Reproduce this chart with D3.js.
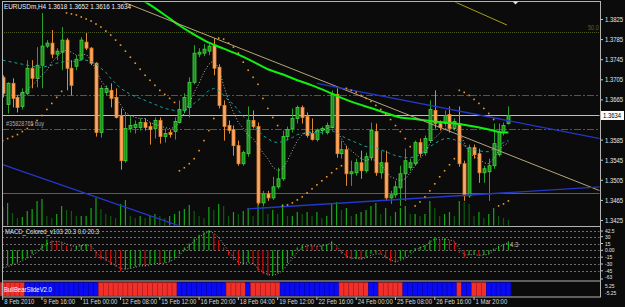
<!DOCTYPE html>
<html>
<head>
<meta charset="utf-8">
<script src="https://cdn.jsdelivr.net/npm/d3@7"></script>
<style>
  body { margin: 0; background: #0b0b0b; }
  svg { display: block; }
</style>
</head>
<body>
<div id="chart"></div>
<script>
// EURUSDm H4 bars, 8 Feb - 2 Mar 2010 (one entry per bar)
const open = [1.3710,1.3656,1.3698,1.3670,1.3652,1.3678,1.3728,1.3708,1.3734,1.3772,
  1.3778,1.3756,1.3760,1.3784,1.3728,1.3732,1.3746,1.3780,1.3768,1.3738,
  1.3600,1.3680,1.3684,1.3670,1.3634,1.3544,1.3608,1.3610,1.3610,1.3620,
  1.3612,1.3608,1.3624,1.3592,1.3600,1.3602,1.3620,1.3644,1.3650,1.3700,
  1.3756,1.3758,1.3762,1.3774,1.3730,1.3654,1.3614,1.3606,1.3574,1.3538,
  1.3558,1.3624,1.3612,1.3460,1.3478,1.3470,1.3492,1.3508,1.3592,1.3608,
  1.3628,1.3650,1.3632,1.3598,1.3586,1.3604,1.3600,1.3610,1.3676,1.3558,
  1.3566,1.3518,1.3520,1.3540,1.3524,1.3550,1.3602,1.3520,1.3540,1.3470,
  1.3476,1.3490,1.3518,1.3530,1.3538,1.3580,1.3560,1.3584,1.3644,1.3618,
  1.3618,1.3636,1.3608,1.3618,1.3538,1.3474,1.3570,1.3558,1.3520,1.3522,
  1.3534,1.3556,1.3600,1.3618];
const high = [1.3714,1.3700,1.3708,1.3674,1.3688,1.3744,1.3744,1.3770,1.3838,1.3784,
  1.3804,1.3768,1.3810,1.3788,1.3744,1.3754,1.3790,1.3798,1.3770,1.3740,
  1.3694,1.3694,1.3698,1.3688,1.3648,1.3640,1.3634,1.3624,1.3628,1.3628,
  1.3620,1.3630,1.3630,1.3608,1.3606,1.3630,1.3664,1.3678,1.3710,1.3774,
  1.3768,1.3776,1.3778,1.3788,1.3736,1.3664,1.3624,1.3614,1.3584,1.3564,
  1.3652,1.3644,1.3620,1.3484,1.3484,1.3512,1.3530,1.3604,1.3612,1.3648,
  1.3654,1.3654,1.3640,1.3628,1.3608,1.3612,1.3620,1.3684,1.3688,1.3584,
  1.3574,1.3544,1.3548,1.3564,1.3560,1.3620,1.3618,1.3564,1.3564,1.3484,
  1.3504,1.3534,1.3568,1.3548,1.3584,1.3588,1.3594,1.3664,1.3684,1.3624,
  1.3644,1.3652,1.3628,1.3652,1.3544,1.3576,1.3576,1.3568,1.3534,1.3548,
  1.3618,1.3618,1.3620,1.3652];
const low = [1.3670,1.3638,1.3650,1.3640,1.3646,1.3674,1.3688,1.3690,1.3688,1.3768,
  1.3748,1.3744,1.3724,1.3684,1.3674,1.3724,1.3744,1.3764,1.3734,1.3592,
  1.3590,1.3674,1.3650,1.3628,1.3526,1.3540,1.3600,1.3598,1.3604,1.3604,
  1.3576,1.3588,1.3578,1.3580,1.3590,1.3586,1.3618,1.3638,1.3630,1.3696,
  1.3750,1.3752,1.3754,1.3714,1.3648,1.3584,1.3598,1.3554,1.3534,1.3534,
  1.3552,1.3608,1.3456,1.3454,1.3464,1.3466,1.3488,1.3504,1.3584,1.3600,
  1.3618,1.3618,1.3590,1.3584,1.3582,1.3596,1.3596,1.3608,1.3550,1.3548,
  1.3494,1.3494,1.3514,1.3508,1.3520,1.3544,1.3514,1.3508,1.3464,1.3458,
  1.3470,1.3454,1.3464,1.3524,1.3534,1.3552,1.3554,1.3580,1.3608,1.3604,
  1.3612,1.3600,1.3604,1.3532,1.3464,1.3470,1.3548,1.3500,1.3500,1.3464,
  1.3528,1.3552,1.3594,1.3616];
const close = [1.3678,1.3698,1.3668,1.3650,1.3680,1.3728,1.3708,1.3734,1.3772,1.3778,
  1.3756,1.3762,1.3784,1.3728,1.3694,1.3746,1.3784,1.3768,1.3738,1.3600,
  1.3688,1.3688,1.3668,1.3630,1.3544,1.3608,1.3614,1.3616,1.3620,1.3610,
  1.3606,1.3624,1.3592,1.3598,1.3596,1.3622,1.3646,1.3670,1.3700,1.3758,
  1.3760,1.3766,1.3772,1.3728,1.3654,1.3612,1.3604,1.3574,1.3538,1.3560,
  1.3624,1.3612,1.3460,1.3478,1.3470,1.3492,1.3508,1.3592,1.3606,1.3628,
  1.3650,1.3630,1.3594,1.3586,1.3604,1.3608,1.3614,1.3676,1.3558,1.3566,
  1.3518,1.3522,1.3540,1.3524,1.3552,1.3604,1.3520,1.3540,1.3470,1.3476,
  1.3492,1.3518,1.3544,1.3540,1.3580,1.3558,1.3588,1.3646,1.3618,1.3610,
  1.3634,1.3608,1.3622,1.3538,1.3474,1.3570,1.3556,1.3520,1.3528,1.3534,
  1.3578,1.3600,1.3614,1.3634];
const volume = [1900,2300,1300,800,900,1500,1700,2500,2700,1000,
  800,1200,2000,1600,1500,1000,1000,1000,1800,2800,
  1700,1200,1000,800,2200,2600,1000,800,1000,800,
  1000,1200,1000,800,1000,1200,1500,1700,2100,1500,
  1000,800,1900,1600,2200,2000,1000,1400,1200,1500,
  1800,1000,2400,2000,1200,1600,1200,2200,1000,1000,
  1400,1200,1400,1000,1400,800,1000,2200,2400,1600,
  1800,1000,1200,1400,1600,2000,2300,1200,1800,1000,
  1400,1800,2000,1200,1200,1000,1200,2500,1800,1000,
  1200,1400,1000,2500,2400,2200,1000,1400,800,1200,
  1800,1000,800,600];

// parabolic SAR dots
const sar = [1.3584,1.3588,1.3592,1.3596,1.3602,1.3608,1.3616,1.3624,1.3634,1.3646,
  1.3658,1.3670,1.3682,1.3838,1.3836,1.3834,1.3830,1.3826,1.3822,1.3816,
  1.3810,1.3802,1.3794,1.3784,1.3774,1.3762,1.3750,1.3738,1.3726,1.3714,
  1.3704,1.3694,1.3684,1.3676,1.3668,1.3660,1.3524,1.3530,1.3538,1.3548,
  1.3564,1.3584,1.3604,1.3628,1.3788,1.3786,1.3778,1.3770,1.3758,1.3740,
  1.3724,1.3710,1.3696,1.3668,1.3648,1.3630,1.3614,1.3454,1.3456,1.3460,
  1.3466,1.3472,1.3480,1.3488,1.3496,1.3504,1.3512,1.3520,1.3528,1.3534,
  1.3688,1.3684,1.3680,1.3674,1.3668,1.3662,1.3654,1.3646,1.3636,1.3626,
  1.3614,1.3602,1.3588,1.3572,1.3454,1.3462,1.3472,1.3484,1.3498,1.3512,
  1.3524,1.3536,1.3548,1.3684,1.3680,1.3674,1.3666,1.3658,1.3648,1.3638,
  1.3626,1.3454,1.3458,1.3464];

// slow moving average (thick green), sampled bars
const slowMaBars = [27,30,33,36,39,42,45,48,51,54,57,60,63,66,69,72,75,78,81,84,87,90,93,96,99,102,103];
const slowMaVals = [1.3872,1.3854,1.3834,1.3813,1.3795,1.3779,1.3767,1.3755,1.3741,1.3726,1.3716,1.3704,1.3694,
  1.3682,1.3669,1.3658,1.3649,1.3639,1.3630,1.3627,1.3623,1.3620,1.3617,1.3612,1.3606,1.3600,1.3600];

// fast moving average (grey dotted)
const fastMa = [null,null,null,1.3674,1.3678,1.3684,1.3694,1.3704,1.3714,1.3724,
  1.3740,1.3750,1.3760,1.3764,1.3760,1.3754,1.3754,1.3756,1.3744,1.3724,
  1.3704,1.3690,1.3678,1.3668,1.3656,1.3640,1.3634,1.3630,1.3628,1.3628,
  1.3620,1.3616,1.3614,1.3610,1.3608,1.3610,1.3620,1.3640,1.3658,1.3680,
  1.3698,1.3720,1.3736,1.3744,1.3728,1.3694,1.3664,1.3640,1.3620,1.3608,
  1.3594,1.3588,1.3574,1.3560,1.3548,1.3532,1.3524,1.3528,1.3544,1.3564,
  1.3584,1.3596,1.3600,1.3602,1.3602,1.3604,1.3608,1.3612,1.3604,1.3588,
  1.3572,1.3564,1.3556,1.3548,1.3544,1.3548,1.3544,1.3536,1.3524,1.3512,
  1.3508,1.3504,1.3508,1.3520,1.3534,1.3548,1.3560,1.3578,1.3590,1.3598,
  1.3608,1.3610,1.3608,1.3600,1.3580,1.3560,1.3552,1.3548,1.3540,1.3538,
  1.3548,1.3564,1.3574,1.3580];

// medium moving average (teal dashed)
const midMa = [1.3744,1.3742,1.3740,1.3738,1.3736,1.3734,1.3732,1.3730,1.3730,1.3732,
  1.3734,1.3738,1.3740,1.3742,1.3742,1.3742,1.3744,1.3744,1.3742,1.3736,
  1.3728,1.3720,1.3708,1.3698,1.3688,1.3682,1.3676,1.3672,1.3668,1.3664,
  1.3660,1.3656,1.3652,1.3648,1.3646,1.3644,1.3642,1.3644,1.3650,1.3658,
  1.3666,1.3674,1.3684,1.3688,1.3684,1.3674,1.3664,1.3656,1.3644,1.3632,
  1.3624,1.3616,1.3604,1.3594,1.3588,1.3582,1.3580,1.3582,1.3586,1.3590,
  1.3596,1.3598,1.3600,1.3600,1.3600,1.3600,1.3602,1.3604,1.3600,1.3594,
  1.3588,1.3584,1.3580,1.3576,1.3572,1.3572,1.3570,1.3566,1.3562,1.3558,
  1.3554,1.3552,1.3550,1.3550,1.3552,1.3556,1.3564,1.3572,1.3578,1.3584,
  1.3588,1.3588,1.3586,1.3582,1.3574,1.3568,1.3566,1.3564,1.3562,1.3562,
  1.3568,1.3574,1.3580,1.3584];

const macdHist = [-40,-34,-30,-26,-20,-14,-8,2,14,24,
  22,20,17,10,6,9,12,14,10,-16,
  -20,-24,-30,-36,-46,-42,-39,-36,-33,-35,
  -31,-28,-30,-27,-24,-16,-8,6,15,26,
  34,40,44,36,22,6,-10,-22,-32,-30,
  -26,-30,-46,-52,-56,-55,-50,-42,-28,-12,
  6,12,11,10,9,10,13,20,6,-8,
  -16,-20,-18,-20,-14,-8,-6,-8,-18,-25,
  -27,-20,-14,-6,5,8,12,22,28,24,
  26,22,18,-6,-16,-10,-8,-12,-10,-8,
  4,10,14,20];
const macdSignal = [-38,-36,-32,-28,-23,-17,-11,-4,6,14,
  19,20,18,14,10,9,10,12,10,-4,
  -14,-20,-27,-33,-40,-41,-40,-37,-34,-34,
  -32,-29,-29,-28,-25,-19,-11,0,10,20,
  29,36,41,38,28,14,-2,-15,-26,-29,
  -27,-29,-40,-48,-53,-55,-52,-44,-32,-18,
  -4,6,10,10,9,10,12,17,10,-3,
  -12,-17,-18,-19,-16,-11,-8,-8,-14,-21,
  -25,-22,-17,-10,0,6,10,18,25,24,
  25,23,20,4,-10,-10,-9,-11,-10,-9,
  0,7,12,17];

// BullBearSlide: 1 = bull (blue), -1 = bear (red)
const bullBear = [-1,-1,-1,-1,-1,1,1,1,1,1,
  1,1,1,1,1,1,1,1,1,1,
  -1,-1,-1,-1,-1,-1,-1,-1,-1,-1,
  -1,-1,-1,-1,-1,-1,1,1,1,1,
  1,1,1,1,1,1,-1,-1,-1,-1,
  1,-1,-1,-1,-1,-1,-1,1,1,1,
  1,1,1,1,1,1,1,1,1,-1,
  -1,-1,-1,-1,-1,1,1,-1,-1,-1,
  -1,-1,1,1,1,1,1,1,1,1,
  1,1,1,-1,1,1,-1,-1,-1,1,
  1,1,1,1];

const timeTickBars = [0,8,16,24,32,40,48,56,64,72,80,88,96];
const timeTickLabels = ["8 Feb 2010","9 Feb 16:00","11 Feb 00:00","12 Feb 08:00","15 Feb 12:00","16 Feb 20:00",
  "18 Feb 04:00","19 Feb 12:00","22 Feb 16:00","24 Feb 00:00","25 Feb 08:00","26 Feb 16:00","1 Mar 20:00"];
const priceTicks = [1.3825,1.3785,1.3745,1.3705,1.3665,1.3585,1.3545,1.3505,1.3465,1.3425];
const macdTicks = [42.5,30,15,0,-15,-30,-45,-63];
const macdTickLabels = ["42.5","30","15","0.00","-15","-30","-45","-63"];
const macdLevels = [42.5,30,15,0,-15,-30,-45];
const bbTickLabels = ["5.25","-5.25"];

// trend lines: [bar, price] -> [bar, price]
const trendLines = [
  { a: [24.5, 1.3860], b: [121.7, 1.3484], color: "#b7a57c", width: 1 },
  { a: [92.1, 1.3860], b: [102.7, 1.3814], color: "#a8a012", width: 1 },
  { a: [0, 1.3536], b: [40.2, 1.3400], color: "#2438c8", width: 1.3 },
  { a: [49.8, 1.3448], b: [121.7, 1.3492], color: "#2438c8", width: 1.3 },
  { a: [64, 1.3698], b: [121.7, 1.3588], color: "#2438c8", width: 1.3 }
];
const levelPrices = [1.3800, 1.3675, 1.3607, 1.3634, 1.3480];
const levelColors = ["#4a5a1e", "#e01818", "#e01818", "#bdbdbd", "#5c6432"];
const levelDashes = ["1,1", "7,2,2,2", "7,2,2,2", null, null];

const lastPrice = 1.3634;

function renderChart(containerId) {
  const W = 625, H = 307;
  const left = 2, right = 600;
  const mainTop = 2, mainBottom = 226;
  const macdBottom = 280.5, bbTop = 281, bbBottom = 297;

  const container = d3.select(containerId);
  container.selectAll("*").remove();

  const svg = container.append("svg")
    .attr("width", W)
    .attr("height", H)
    .style("background", "#0b0b0b");

  const x = d3.scaleLinear().domain([0, 103]).range([2.7, 508.4]);
  const y = d3.scaleLinear().domain([1.3425, 1.3825]).range([220.5, 19.5]);
  const yVol = d3.scaleLinear().domain([0, 3000]).range([mainBottom, mainBottom - 30]);
  const yMacd = d3.scaleLinear().domain([-63, 42.5]).range([279, 231]);

  const defs = svg.append("defs");
  defs.append("clipPath").attr("id", "clipMain").append("rect")
    .attr("x", left + 0.5).attr("y", mainTop + 0.5).attr("width", right - left - 1).attr("height", mainBottom - mainTop - 1);
  defs.append("clipPath").attr("id", "clipMacd").append("rect")
    .attr("x", left + 0.5).attr("y", mainBottom + 0.5).attr("width", right - left - 1).attr("height", macdBottom - mainBottom - 1);

  const font = "'Liberation Sans', Arial, sans-serif";
  function label(g, tx, ty, text, color, size, anchor) {
    return g.append("text")
      .attr("transform", `translate(${tx},${ty}) scale(0.85,1)`)
      .attr("fill", color)
      .attr("text-anchor", anchor || "start")
      .style("font", `${size}px ${font}`)
      .text(text);
  }

  const main = svg.append("g").attr("clip-path", "url(#clipMain)");

  // volumes
  main.selectAll(".vol")
    .data(volume)
    .enter().append("line")
    .attr("x1", (d, i) => x(i)).attr("x2", (d, i) => x(i))
    .attr("y1", yVol(0)).attr("y2", d => yVol(d))
    .attr("stroke", (d, i) => (i === 0 || d >= volume[i - 1]) ? "#15a815" : "#0d5c0d")
    .attr("stroke-width", 1.2);

  // horizontal levels
  levelPrices.forEach((p, k) => {
    main.append("line")
      .attr("x1", left).attr("x2", right)
      .attr("y1", Math.round(y(p)) + 0.5).attr("y2", Math.round(y(p)) + 0.5)
      .attr("stroke", levelColors[k])
      .attr("stroke-dasharray", levelDashes[k])
      .attr("stroke-width", 1);
  });

  // candles
  const idx = d3.range(open.length);
  main.selectAll(".wick")
    .data(idx)
    .enter().append("line")
    .attr("x1", i => Math.round(x(i)) + 0.5).attr("x2", i => Math.round(x(i)) + 0.5)
    .attr("y1", i => y(high[i])).attr("y2", i => y(low[i]))
    .attr("stroke", i => close[i] >= open[i] ? "#2aa02a" : "#e08a30")
    .attr("stroke-width", 1);

  main.selectAll(".body")
    .data(idx)
    .enter().append("rect")
    .attr("x", i => Math.round(x(i)) - 1)
    .attr("y", i => y(Math.max(open[i], close[i])))
    .attr("width", 3)
    .attr("height", i => Math.max(1, Math.abs(y(open[i]) - y(close[i]))))
    .attr("fill", i => close[i] >= open[i] ? "#248c24" : "#f5a870")
    .attr("stroke", i => close[i] >= open[i] ? "#3ad83a" : "#f08018")
    .attr("stroke-width", 0.8);

  // moving averages
  main.append("path")
    .datum(midMa)
    .attr("fill", "none")
    .attr("stroke", "#1c9c9c")
    .attr("stroke-width", 1)
    .attr("stroke-dasharray", "3,3")
    .attr("d", d3.line().defined(d => d != null).x((d, i) => x(i)).y(d => y(d)));

  main.append("path")
    .datum(fastMa)
    .attr("fill", "none")
    .attr("stroke", "#b4b4b4")
    .attr("stroke-width", 1)
    .attr("stroke-dasharray", "1,2")
    .attr("d", d3.line().defined(d => d != null).x((d, i) => x(i)).y(d => y(d)));

  main.append("path")
    .datum(slowMaBars.map((b, k) => [b, slowMaVals[k]]))
    .attr("fill", "none")
    .attr("stroke", "#10f010")
    .attr("stroke-width", 2)
    .attr("d", d3.line().curve(d3.curveMonotoneX).x(d => x(d[0])).y(d => y(d[1])));

  // trend lines
  trendLines.forEach(t => {
    main.append("line")
      .attr("x1", x(t.a[0])).attr("y1", y(t.a[1]))
      .attr("x2", x(t.b[0])).attr("y2", y(t.b[1]))
      .attr("stroke", t.color)
      .attr("stroke-width", t.width);
  });

  // parabolic SAR
  main.selectAll(".sar")
    .data(sar)
    .enter().append("rect")
    .attr("x", (d, i) => x(i) - 0.8)
    .attr("y", d => y(d) - 0.8)
    .attr("width", 1.6).attr("height", 1.6)
    .attr("fill", "#f09a2a");

  // texts inside main panel
  label(svg, 4, 9, "EURUSDm,H4  1.3618  1.3652  1.3616  1.3634", "#f0f0f0", 7.5);
  label(svg, 6, 126, "#35828765 buy", "#a8a8a8", 6.5);
  label(svg, 588, y(1.3800) - 2, "50.0", "#56652a", 6.5);

  // price axis
  const axisG = svg.append("g");
  priceTicks.forEach(p => {
    axisG.append("line")
      .attr("x1", right).attr("x2", right + 3)
      .attr("y1", y(p)).attr("y2", y(p))
      .attr("stroke", "#c8c8c8");
    label(axisG, 605, y(p) + 2.5, d3.format(".4f")(p), "#e6e6e6", 7);
  });
  axisG.append("rect")
    .attr("x", 601).attr("y", y(lastPrice) - 4.5)
    .attr("width", 23).attr("height", 9)
    .attr("fill", "#ffffff");
  label(axisG, 603, y(lastPrice) + 2.5, d3.format(".4f")(lastPrice), "#000000", 7);

  // MACD panel
  const macd = svg.append("g").attr("clip-path", "url(#clipMacd)");
  macdLevels.forEach(v => {
    macd.append("line")
      .attr("x1", left).attr("x2", right)
      .attr("y1", Math.round(yMacd(v)) + 0.5).attr("y2", Math.round(yMacd(v)) + 0.5)
      .attr("stroke", "#6e6e6e")
      .attr("stroke-dasharray", "2,2");
  });
  macd.selectAll(".hist")
    .data(macdHist)
    .enter().append("line")
    .attr("x1", (d, i) => x(i)).attr("x2", (d, i) => x(i))
    .attr("y1", yMacd(0)).attr("y2", d => yMacd(d))
    .attr("stroke", (d, i) => (i === 0 || d >= macdHist[i - 1]) ? "#0fb40f" : "#d80a0a")
    .attr("stroke-width", 1.2);
  macd.append("path")
    .datum(macdSignal)
    .attr("fill", "none")
    .attr("stroke", "#a8a8a8")
    .attr("stroke-width", 1)
    .attr("stroke-dasharray", "1,2")
    .attr("d", d3.line().x((d, i) => x(i)).y(d => yMacd(d)));
  label(svg, 5, 234, "MACD_Colored_v103 20.3 0.0 20.3", "#e0e0e0", 7);
  label(svg, 510, yMacd(macdHist[103]) + 6, "4.3", "#c0c0c0", 7);

  // MACD axis: small labels so the crowded ones stay apart
  const macdLabelY = [233, 239, 245.5, 252, 259, 266, 272.5, 279];
  macdTicks.forEach((v, k) => {
    svg.append("line")
      .attr("x1", right).attr("x2", right + 3)
      .attr("y1", yMacd(v)).attr("y2", yMacd(v))
      .attr("stroke", "#c8c8c8");
    label(svg, 605, macdLabelY[k], macdTickLabels[k], "#e6e6e6", 5.8);
  });

  // BullBearSlide panel
  svg.selectAll(".bb")
    .data(bullBear)
    .enter().append("rect")
    .attr("x", (d, i) => x(i) - 2.45)
    .attr("y", bbTop + 1.5)
    .attr("width", 4.91)
    .attr("height", bbBottom - bbTop - 2.5)
    .attr("fill", d => d > 0 ? "#0a0af5" : "#f0302a")
    .attr("stroke", d => d > 0 ? "#0505a8" : "#b81818")
    .attr("stroke-width", 0.5);
  label(svg, 4, 292, "BullBearSlideV2.0", "#ffffff", 7);
  label(svg, 605, 287.5, bbTickLabels[0], "#e6e6e6", 5.8);
  label(svg, 605, 294.5, bbTickLabels[1], "#e6e6e6", 5.8);

  // time axis
  timeTickBars.forEach((b, k) => {
    svg.append("line")
      .attr("x1", x(b)).attr("x2", x(b))
      .attr("y1", bbBottom).attr("y2", bbBottom + 3)
      .attr("stroke", "#c8c8c8");
    label(svg, x(b) + 1.5, 304, timeTickLabels[k], "#d8d8d8", 7);
  });

  // frame
  const frame = svg.append("g").attr("stroke", "#b4b4b4").attr("stroke-width", 1).attr("fill", "none");
  frame.append("rect").attr("x", left + 0.5).attr("y", mainTop - 0.5).attr("width", right - left).attr("height", bbBottom - mainTop + 0.5);
  [mainBottom, macdBottom].forEach(v => {
    frame.append("line").attr("x1", left).attr("x2", right).attr("y1", v + 0.5).attr("y2", v + 0.5);
  });

  // chart shift marker
  svg.append("path")
    .attr("d", "M512.5,1.5 L518.5,1.5 L515.5,4.5 Z")
    .attr("fill", "#e0e0e0");
}

renderChart("#chart");
</script>
</body>
</html>
